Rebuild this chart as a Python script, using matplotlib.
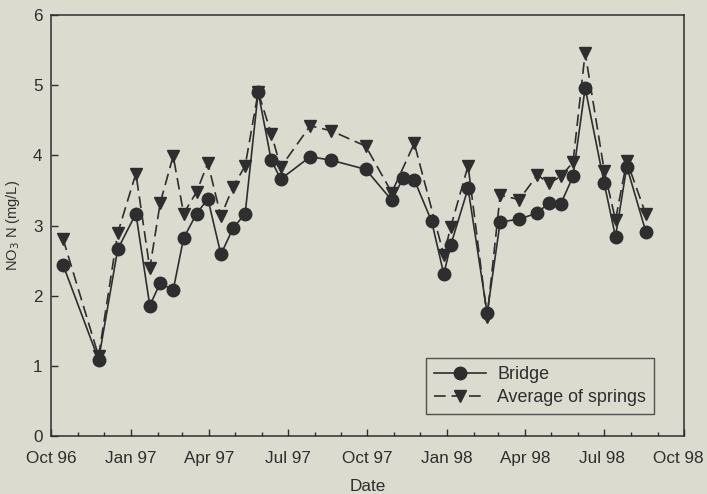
import numpy as np
import pandas as pd
import matplotlib
matplotlib.use("Agg")
import matplotlib.pyplot as plt
import matplotlib.dates as mdates
from matplotlib.transforms import ScaledTranslation

# Sampling dates (shared by both series)
dates = [
    "1996-10-15", "1996-11-25", "1996-12-17", "1997-01-07", "1997-01-23",
    "1997-02-04", "1997-02-19", "1997-03-03", "1997-03-18", "1997-03-31",
    "1997-04-15", "1997-04-29", "1997-05-13", "1997-05-28", "1997-06-12",
    "1997-06-23", "1997-07-27", "1997-08-20", "1997-09-29", "1997-10-29",
    "1997-11-11", "1997-11-24", "1997-12-14", "1997-12-28", "1998-01-05",
    "1998-01-25", "1998-02-16", "1998-03-03", "1998-03-25", "1998-04-15",
    "1998-04-28", "1998-05-12", "1998-05-26", "1998-06-09", "1998-07-01",
    "1998-07-14", "1998-07-27", "1998-08-18",
]

bridge = [
    2.44, 1.09, 2.66, 3.17, 1.86, 2.18, 2.08, 2.82, 3.17, 3.38,
    2.59, 2.96, 3.17, 4.90, 3.93, 3.66, 3.98, 3.93, 3.80, 3.36,
    3.67, 3.65, 3.06, 2.31, 2.72, 3.53, 1.75, 3.05, 3.09, 3.18,
    3.32, 3.31, 3.70, 4.96, 3.60, 2.84, 3.84, 2.91,
]

# springs were not sampled on two of the dates
springs = [
    2.81, 1.14, 2.89, 3.74, 2.39, 3.32, 3.99, 3.17, 3.48, 3.89,
    3.13, 3.55, 3.85, 4.90, 4.31, 3.83, 4.42, 4.35, 4.13, 3.47,
    np.nan, 4.17, np.nan, 2.58, 2.98, 3.85, 1.70, 3.43, 3.37, 3.72,
    3.60, 3.70, 3.90, 5.46, 3.78, 3.08, 3.92, 3.16,
]

x_ticks = ["1996-10-01", "1997-01-01", "1997-04-01", "1997-07-01", "1997-10-01",
           "1998-01-01", "1998-04-01", "1998-07-01", "1998-10-01"]
x_tick_labels = ["Oct 96", "Jan 97", "Apr 97", "Jul 97", "Oct 97",
                 "Jan 98", "Apr 98", "Jul 98", "Oct 98"]

BG = "#dbdbd0"
INK = "#2e2e2e"
FS = 12.3

plt.rcParams["font.family"] = ["Liberation Sans", "DejaVu Sans"]
plt.rcParams["font.size"] = FS

df = pd.DataFrame({"date": pd.to_datetime(dates), "bridge": bridge, "springs": springs})
sp = df.dropna(subset=["springs"])

fig = plt.figure(figsize=(7.07, 4.94), dpi=100, facecolor=BG)
ax = fig.add_axes([0.072, 0.117, 0.8955, 0.853], facecolor=BG)

ax.plot(sp["date"], sp["springs"], color=INK, lw=1.2, dashes=(7, 3.5),
        marker="v", markersize=8.5, markerfacecolor=INK, markeredgecolor=INK,
        label="Average of springs", zorder=2)
ax.plot(df["date"], df["bridge"], color=INK, lw=1.2, linestyle="-",
        marker="o", markersize=9, markerfacecolor=INK, markeredgecolor=INK,
        label="Bridge", zorder=3)

ax.set_xlim(pd.Timestamp("1996-10-01"), pd.Timestamp("1998-10-01"))
ax.set_ylim(0, 6)
ax.set_yticks([0, 1, 2, 3, 4, 5, 6])
ax.set_xticks(pd.to_datetime(x_ticks))
ax.set_xticklabels(x_tick_labels)
ax.xaxis.set_minor_locator(mdates.MonthLocator())

ax.tick_params(axis="both", which="major", direction="in", length=5, width=1,
               color=INK, labelcolor=INK, top=False, right=False)
ax.tick_params(axis="x", which="minor", direction="in", length=3, width=1,
               color=INK, top=False)
ax.tick_params(axis="x", which="major", pad=11)
ax.tick_params(axis="y", which="major", pad=6)

# the last labels in the original sit a little left of their ticks
label_shift = {"Jul 98": -2, "Oct 98": -6}
for lab in ax.get_xticklabels():
    dx = label_shift.get(lab.get_text(), 0)
    if dx:
        lab.set_transform(lab.get_transform() + ScaledTranslation(dx / 100, 0, fig.dpi_scale_trans))

for s in ax.spines.values():
    s.set_color(INK)
    s.set_linewidth(1.1)

ax.set_xlabel("Date", color=INK, labelpad=9)
ax.set_ylabel(r"NO$_3$ N (mg/L)", color=INK, fontsize=10.5, labelpad=8)

handles, labels = ax.get_legend_handles_labels()
leg = ax.legend(handles[::-1], labels[::-1], loc="lower right",
                bbox_to_anchor=(0.9526, 0.052), borderaxespad=0, frameon=True,
                fancybox=False, handlelength=2.9, borderpad=0.45,
                labelspacing=0.34, handletextpad=0.6, fontsize=12.9)
leg.get_frame().set_edgecolor(INK)
leg.get_frame().set_facecolor(BG)
leg.get_frame().set_linewidth(1.0)
for t in leg.get_texts():
    t.set_color(INK)

fig.savefig("out.png", dpi=100, facecolor=BG)
